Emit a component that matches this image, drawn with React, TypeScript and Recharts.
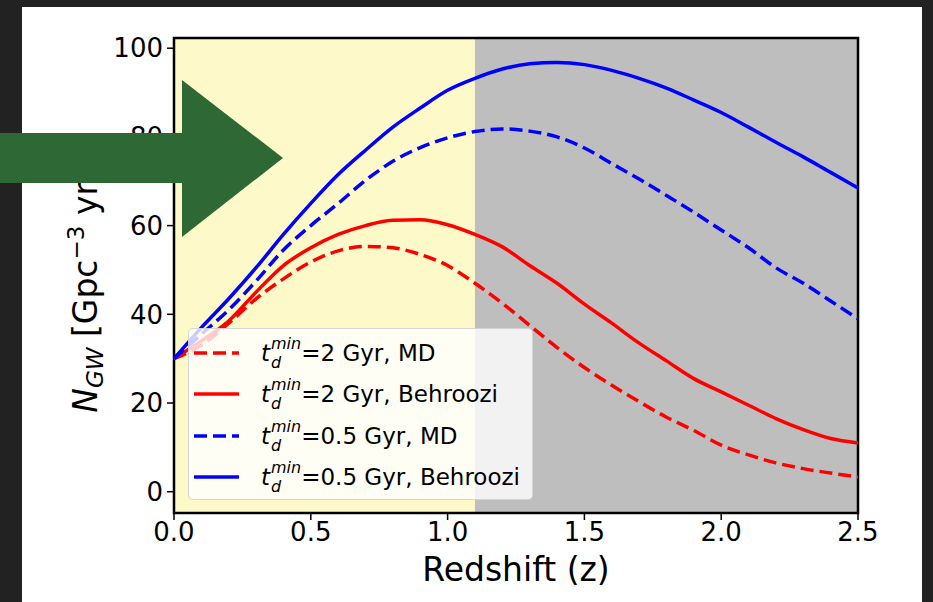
import { LineChart, Line, XAxis, YAxis, ReferenceArea } from 'recharts'

// redshift grid
const Z = [0, 0.1, 0.2, 0.3, 0.4, 0.5, 0.6, 0.7, 0.8, 0.9, 1.0, 1.1, 1.2, 1.3, 1.4, 1.5, 1.6, 1.7, 1.8, 1.9, 2.0, 2.1, 2.2, 2.3, 2.4, 2.5]

const RED_MD = [30, 33, 38, 43.5, 48, 51.8, 54.3, 55.3, 55, 53.5, 51, 47, 42.5, 37.5, 32.5, 28, 24, 20.3, 16.8, 13.8, 10.5, 8.3, 6.5, 5.2, 4.2, 3.3]
const RED_BEH = [30, 34, 38.5, 45, 51, 55, 58, 60, 61.2, 61.3, 60.2, 58, 55.2, 51, 47, 42.3, 38, 33.5, 29.5, 25.5, 22.5, 19.5, 16.5, 14, 12, 11]
const BLUE_MD = [30, 35.5, 41, 47.5, 54.5, 60, 65, 70.2, 74.5, 77.6, 79.8, 81.2, 81.8, 81.3, 80, 77.5, 74, 70.5, 66.8, 63, 59, 55, 50.5, 47, 43, 39]
const BLUE_BEH = [30, 37, 43.5, 50.5, 58, 65, 71.5, 77, 82.2, 86.5, 90.5, 93.2, 95.3, 96.5, 96.8, 96.3, 95, 93.2, 91, 88.3, 85.5, 82.2, 78.8, 75.5, 72, 68.5]

const X_TICKS = [0, 0.5, 1.0, 1.5, 2.0, 2.5]
const Y_TICKS = [0, 20, 40, 60, 80, 100]

const SERIES = [
  { key: 'redMD', tmin: '2', rest: ' Gyr, MD', color: '#ff0000', dashed: true, values: RED_MD },
  { key: 'redBeh', tmin: '2', rest: ' Gyr, Behroozi', color: '#ff0000', dashed: false, values: RED_BEH },
  { key: 'blueMD', tmin: '0.5', rest: ' Gyr, MD', color: '#0000ff', dashed: true, values: BLUE_MD },
  { key: 'blueBeh', tmin: '0.5', rest: ' Gyr, Behroozi', color: '#0000ff', dashed: false, values: BLUE_BEH },
]

const data = Z.map((z, i) => {
  const row: any = { z }
  SERIES.forEach(s => { row[s.key] = s.values[i] })
  return row
})

const FONT = '"DejaVu Sans", sans-serif'
const Y_MIN = -4.8
const Y_MAX = 102.3

const YLabel = () => (
  <text transform="translate(97,274) rotate(-90)" textAnchor="middle" fontFamily={FONT} fontSize={33} fill="#000">
    <tspan fontStyle="italic">N</tspan>
    <tspan fontStyle="italic" fontSize={23} dy={6}>GW</tspan>
    <tspan dy={-6}> [Gpc</tspan>
    <tspan fontSize={23} dy={-13}>−3</tspan>
    <tspan dy={13}> yr</tspan>
    <tspan fontSize={23} dy={-13}>−1</tspan>
    <tspan dy={13}>]</tspan>
  </text>
)

const XLabel = () => (
  <text x={516} y={581} textAnchor="middle" fontFamily={FONT} fontSize={33} fill="#000">
    Redshift (z)
  </text>
)

function LegendBox() {
  return (
    <div style={{
      position: 'absolute', left: 188, top: 328, width: 345, height: 172,
      background: 'rgba(255,255,255,0.8)', border: '1px solid rgba(204,204,204,0.8)',
      borderRadius: 5, boxSizing: 'border-box', paddingTop: 3, paddingLeft: 4,
      fontFamily: FONT, fontSize: 23, color: '#000',
    }}>
      {SERIES.map(s => (
        <div key={s.key} style={{ display: 'flex', alignItems: 'center', height: 41.5 }}>
          <svg width={50} height={10} style={{ flex: 'none' }}>
            <line x1={1} y1={5} x2={46} y2={5} stroke={s.color} strokeWidth={3.5}
              strokeDasharray={s.dashed ? '13 6' : undefined} />
          </svg>
          <span style={{ marginLeft: 18, whiteSpace: 'nowrap', display: 'flex', alignItems: 'center' }}>
            <i>t</i>
            <span style={{ display: 'inline-flex', flexDirection: 'column', fontStyle: 'italic', fontSize: 16, lineHeight: '19px', marginLeft: 1 }}>
              <span>min</span>
              <span>d</span>
            </span>
            <span>={s.tmin}{s.rest}</span>
          </span>
        </div>
      ))}
    </div>
  )
}

export default function App() {
  return (
    <div style={{ position: 'absolute', left: 0, top: 0, width: 933, height: 602, background: '#222222', overflow: 'hidden' }}>
      <div style={{ position: 'absolute', left: 22, top: 7, width: 900, height: 595, background: '#ffffff' }} />
      <div style={{ position: 'absolute', left: 0, top: 0 }}>
        <LineChart width={933} height={602} data={data} margin={{ top: 38, right: 75, left: 94, bottom: 29 }}>
          <ReferenceArea x1={0} x2={1.1} y1={Y_MIN} y2={Y_MAX} fill="#fdf9c8" fillOpacity={1} stroke="none" />
          <ReferenceArea x1={1.1} x2={2.5} y1={Y_MIN} y2={Y_MAX} fill="#bebebe" fillOpacity={1} stroke="none" />
          <XAxis
            dataKey="z" type="number" domain={[0, 2.5]} ticks={X_TICKS} height={60}
            tickFormatter={(v: number) => v.toFixed(1)} axisLine={false}
            tickLine={{ stroke: '#000', strokeWidth: 1.5 }} tickSize={7} tickMargin={3}
            tick={{ fill: '#000', fontSize: 26, fontFamily: FONT }}
            label={XLabel}
          />
          <YAxis
            type="number" domain={[Y_MIN, Y_MAX]} ticks={Y_TICKS} width={80} allowDataOverflow
            axisLine={false} tickLine={{ stroke: '#000', strokeWidth: 1.5 }} tickSize={7} tickMargin={4}
            tick={{ fill: '#000', fontSize: 26, fontFamily: FONT }}
            label={YLabel}
          />
          {SERIES.map(s => (
            <Line key={s.key} dataKey={s.key} type="monotone" stroke={s.color} strokeWidth={3.5}
              strokeDasharray={s.dashed ? '13 6' : undefined} dot={false} activeDot={false}
              isAnimationActive={false} />
          ))}
          <ReferenceArea x1={0} x2={2.5} y1={Y_MIN} y2={Y_MAX} fill="none" stroke="#000" strokeWidth={2.5} />
        </LineChart>
      </div>
      <LegendBox />
      <svg width={933} height={602} style={{ position: 'absolute', left: 0, top: 0, pointerEvents: 'none' }}>
        <polygon points="0,133 182,133 182,80 283,158 182,237 182,183 0,183" fill="#2e6935" />
      </svg>
    </div>
  )
}
